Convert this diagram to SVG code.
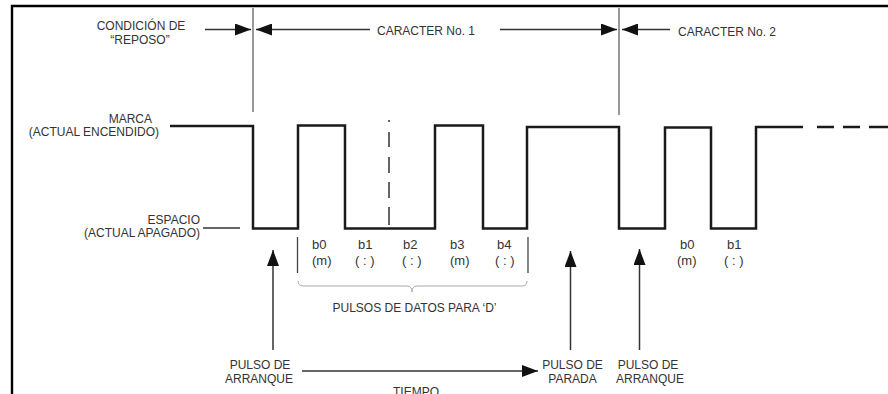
<svg xmlns="http://www.w3.org/2000/svg" width="888" height="394" viewBox="0 0 888 394">
<defs>
<style>
text{font-family:"Liberation Sans",Arial,sans-serif;font-size:12px;fill:#333}
.bit{font-size:13px}
.mid{text-anchor:middle}
.end{text-anchor:end}
.wave{fill:none;stroke:#1a1a1a;stroke-width:2.5}
.bound{stroke:#555;stroke-width:1.2}
.arr{stroke:#333;stroke-width:1.5;fill:none}
.thin{stroke:#444;stroke-width:1.3;fill:none}
</style>
<marker id="ah" viewBox="0 0 16 12" refX="16" refY="6" markerWidth="16" markerHeight="12" markerUnits="userSpaceOnUse" orient="auto">
<path d="M0,0 L16,6 L0,12 z" fill="#111"/>
</marker>
</defs>
<rect width="888" height="394" fill="#fff"/>
<g id="frame" stroke="#000" stroke-width="2.4" fill="none">
<path d="M12,394 V6 H888"/>
</g>
<g id="waveform">
<path class="wave" d="M170,126 H253 V228.5 H298 V125.5 H345 V228.5 H435 V125.5 H483 V228.5 H527 V127 H619 V228.5 H665 V127.5 H711 V228.5 H756 V127 H803"/>
<path class="wave" d="M817,127 h17 M843,127 h17 M869,127 h19"/>
<path stroke="#333" stroke-width="1.5" fill="none" d="M389,120 v2 M389,132 v15 M389,157 v16 M389,182 v16 M389,207 v18"/>
<path stroke="#333" stroke-width="1.3" d="M203,228 H240"/>
</g>
<g id="boundaries">
<line class="bound" x1="253" y1="8" x2="253" y2="112"/>
<line class="bound" x1="619" y1="8" x2="619" y2="115"/>
</g>
<g id="connectors">
<line class="arr" x1="205" y1="29.5" x2="251" y2="29.5" marker-end="url(#ah)"/>
<line class="arr" x1="370" y1="29.5" x2="256" y2="29.5" marker-end="url(#ah)"/>
<line class="arr" x1="500" y1="29.5" x2="617" y2="29.5" marker-end="url(#ah)"/>
<line class="arr" x1="670" y1="29.5" x2="622" y2="29.5" marker-end="url(#ah)"/>
<line class="arr" x1="273" y1="350" x2="273" y2="250" marker-end="url(#ah)"/>
<line class="arr" x1="570.5" y1="350" x2="570.5" y2="251" marker-end="url(#ah)"/>
<line class="arr" x1="639.5" y1="350" x2="639.5" y2="249" marker-end="url(#ah)"/>
<line class="arr" x1="302" y1="371" x2="538" y2="371" marker-end="url(#ah)"/>
</g>
<g id="bracket">
<line class="thin" x1="297.5" y1="237" x2="297.5" y2="273"/>
<line class="thin" x1="528" y1="237" x2="528" y2="273"/>
<path d="M298,281 Q298,286 303,286 H407 Q412,286 412,292 Q412,286 417,286 H522 Q527,286 527,281" fill="none" stroke="#aaa" stroke-width="1"/>
</g>
<g id="label-reposo">
<text class="mid" x="141" y="29.5">CONDICIÓN DE</text>
<text class="mid" x="140" y="43.5">“REPOSO”</text>
</g>
<g id="label-caracter1"><text x="377" y="35">CARACTER No. 1</text></g>
<g id="label-caracter2"><text x="678" y="35.5">CARACTER No. 2</text></g>
<g id="label-marca">
<text class="end" x="152" y="122.7">MARCA</text>
<text class="end" x="159" y="135.8">(ACTUAL ENCENDIDO)</text>
</g>
<g id="label-espacio">
<text class="end" x="200" y="224.3">ESPACIO</text>
<text class="end" x="200" y="236.6">(ACTUAL APAGADO)</text>
</g>
<g id="bits1">
<text class="bit" x="312" y="249.3">b0</text><text class="bit" x="312" y="264.5">(m)</text>
<text class="bit" x="358" y="249.3">b1</text><text class="bit" x="355" y="264.5">( : )</text>
<text class="bit" x="403" y="249.3">b2</text><text class="bit" x="402" y="264.5">( : )</text>
<text class="bit" x="450" y="249.3">b3</text><text class="bit" x="450" y="264.5">(m)</text>
<text class="bit" x="497" y="249.3">b4</text><text class="bit" x="495" y="264.5">( : )</text>
</g>
<g id="bits2">
<text class="bit" x="680" y="249.3">b0</text><text class="bit" x="677" y="264.5">(m)</text>
<text class="bit" x="727" y="249.3">b1</text><text class="bit" x="724" y="264.5">( : )</text>
</g>
<g id="label-datos"><text class="mid" x="414.5" y="312.3">PULSOS DE DATOS PARA ‘D’</text></g>
<g id="label-arranque1">
<text class="mid" x="260" y="369.3">PULSO DE</text>
<text class="mid" x="259" y="382.5">ARRANQUE</text>
</g>
<g id="label-parada">
<text class="mid" x="572.5" y="369.3">PULSO DE</text>
<text class="mid" x="572.5" y="382.5">PARADA</text>
</g>
<g id="label-arranque2">
<text class="mid" x="648" y="369.3">PULSO DE</text>
<text class="mid" x="650" y="382.5">ARRANQUE</text>
</g>
<g id="label-tiempo"><text class="mid" x="416" y="395.5">TIEMPO</text></g>
</svg>
